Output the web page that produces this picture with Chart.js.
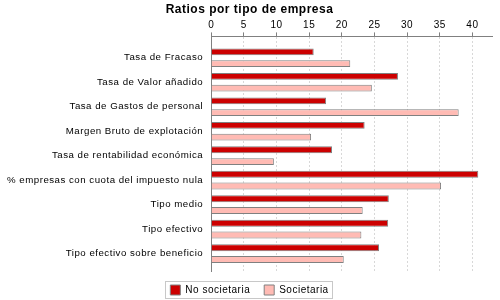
<!DOCTYPE html>
<html>
<head>
<meta charset="utf-8">
<script src="https://cdn.jsdelivr.net/npm/chart.js@4"></script>
<style>
  html, body { margin: 0; padding: 0; background: #fff; }
  #wrap { width: 500px; height: 300px; }
</style>
</head>
<body>
<div id="wrap"><canvas id="ratiosChart"></canvas></div>
<script>
const categories = [
    'Tasa de Fracaso',
    'Tasa de Valor añadido',
    'Tasa de Gastos de personal',
    'Margen Bruto de explotación',
    'Tasa de rentabilidad económica',
    '% empresas con cuota del impuesto nula',
    'Tipo medio',
    'Tipo efectivo',
    'Tipo efectivo sobre beneficio'
];
const noSocietaria = [15.7, 28.6, 17.6, 23.5, 18.5, 40.9, 27.2, 27.1, 25.7];
const societaria = [21.3, 24.6, 37.9, 15.3, 9.6, 35.2, 23.2, 23.0, 20.3];
const seriesNames = ['No societaria', 'Societaria'];
const tickValues = [0, 5, 10, 15, 20, 25, 30, 35, 40];

window.onload = () => {

    // spaced-out lettering like the original labels
    const spacing = {
        id: 'spacing',
        beforeLayout(chart) { chart.ctx.letterSpacing = '0.5px'; },
        beforeDraw(chart) { chart.ctx.letterSpacing = '0.5px'; }
    };

    // thin box around the legend items only
    const legendBox = {
        id: 'legendBox',
        afterDraw(chart) {
            const l = chart.legend;
            if (!l || !l.legendHitBoxes || !l.legendHitBoxes.length) return;
            const boxes = l.legendHitBoxes;
            let left = Math.min(...boxes.map(b => b.left)) - 5;
            let right = Math.max(...boxes.map(b => b.left + b.width)) + 4;
            let top = Math.min(...boxes.map(b => b.top)) - 4;
            let bottom = Math.max(...boxes.map(b => b.top + b.height)) + 3;
            const ctx = chart.ctx;
            ctx.save();
            ctx.strokeStyle = '#c8c8c8';
            ctx.lineWidth = 1;
            ctx.strokeRect(Math.round(left) + 0.5, Math.round(top) + 0.5, Math.round(right - left), Math.round(bottom - top));
            ctx.restore();
        }
    };

    new Chart(document.getElementById('ratiosChart'), {
        type: 'bar',
        data: {
            labels: categories,
            datasets: [
                {
                    label: seriesNames[0],
                    data: noSocietaria,
                    backgroundColor: '#cc0000',
                    borderColor: '#808080',
                    borderWidth: 1,
                },
                {
                    label: seriesNames[1],
                    data: societaria,
                    backgroundColor: '#ffbbb4',
                    borderColor: '#808080',
                    borderWidth: 1,
                },
            ],
        },
        options: {
            indexAxis: 'y',
            responsive: true,
            maintainAspectRatio: false,
            animation: false,
            layout: {
                padding: { top: 2, right: 8, left: 7, bottom: -5 }
            },
            datasets: {
                bar: { categoryPercentage: 0.96, barPercentage: 0.58 }
            },
            plugins: {
                title: {
                    display: true,
                    text: 'Ratios por tipo de empresa',
                    color: '#000',
                    font: { family: 'Liberation Sans', size: 12, weight: 'bold' },
                    padding: { top: 0, bottom: 2 }
                },
                legend: {
                    display: true,
                    position: 'bottom',
                    labels: {
                        boxWidth: 10,
                        boxHeight: 10,
                        padding: 14,
                        color: '#000',
                        font: { family: 'Liberation Sans', size: 10 }
                    }
                },
                tooltip: { enabled: false }
            },
            scales: {
                x: {
                    position: 'top',
                    min: 0,
                    max: 43,
                    afterBuildTicks: (scale) => {
                        scale.ticks = tickValues.map(v => ({ value: v }));
                    },
                    ticks: {
                        color: '#000',
                        padding: 1,
                        font: { family: 'Liberation Sans', size: 10 }
                    },
                    grid: {
                        color: '#d8d8d8',
                        tickLength: 4,
                        tickColor: '#808080',
                    },
                    border: { display: true, color: '#808080', dash: [2, 2] }
                },
                y: {
                    // leave a margin above the first and below the last category
                    afterBuildTicks: (scale) => {
                        scale._startValue = -0.87;
                        scale._valueRange = categories.length - 1 + 0.87 + 0.71;
                    },
                    ticks: {
                        color: '#000',
                        padding: 0,
                        font: { family: 'Liberation Sans', size: 9.7 }
                    },
                    grid: { display: false },
                    border: { display: true, color: '#808080' }
                }
            }
        },
        plugins: [spacing, legendBox]
    });
};
</script>
</body>
</html>
